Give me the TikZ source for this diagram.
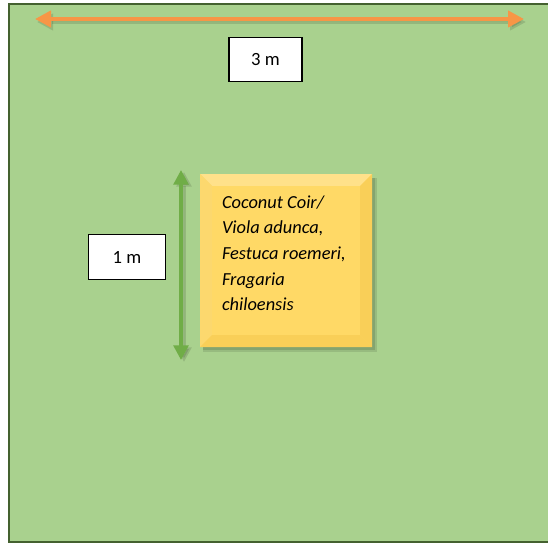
\documentclass[tikz,border=0pt]{standalone}
\usepackage{fontspec}
\setmainfont{Carlito}
\usetikzlibrary{arrows.meta}
\definecolor{grassfill}{HTML}{A9D18E}
\definecolor{grassline}{HTML}{44612F}
\definecolor{orangearr}{HTML}{F79646}
\definecolor{greenarr}{HTML}{70AD47}
\definecolor{goldmid}{HTML}{FFD966}
\definecolor{goldlight}{HTML}{FFE18A}
\definecolor{golddark}{HTML}{F9CF58}
\definecolor{goldleft}{HTML}{FCD86E}
\tikzset{
  labelbox/.style={draw=black, line width=1.2pt, fill=white, inner sep=0pt, font=\fontsize{14}{16}\selectfont},
  dimarrow/.style={line width=3pt, {Triangle[length=12pt,width=12pt]}-{Triangle[length=12pt,width=12pt]}},
  shadowarrow/.style={dimarrow, draw=black, fill=black, opacity=0.12},
}
\begin{document}
\begin{tikzpicture}[x=0.75pt,y=-0.75pt]
\useasboundingbox (0,0) rectangle (548,545);
% ground
\fill[grassfill] (9,4) rectangle (560,542);
\draw[grassline, line width=2pt] (560,4) -- (9,4) -- (9,542) -- (560,542);
% top dimension
\coordinate (tl) at (35,19);
\coordinate (tr) at (524,19);
\coordinate (tls) at (37,22);
\coordinate (trs) at (526,22);
\draw[shadowarrow] (tls) -- (trs);
\draw[dimarrow, draw=orangearr, fill=orangearr] (tl) -- (tr);
\node[labelbox, minimum width=55pt, minimum height=33pt] (lab3) at (265.5,59.5) {3 m};
% plot shadow
\fill[black, opacity=0.10] (203,178) rectangle (377,352);
\fill[black, opacity=0.12] (203,178) rectangle (375,350);
% plot bevel box
\coordinate (pnw) at (200,174);
\coordinate (pse) at (372,347);
\coordinate (inw) at (212,186);
\coordinate (ise) at (360,335);
\fill[goldmid] (pnw) rectangle (pse);
\fill[goldlight] (200,174) -- (372,174) -- (360,186) -- (212,186) -- cycle;
\fill[goldleft] (200,174) -- (212,186) -- (212,335) -- (200,347) -- cycle;
\fill[golddark] (372,174) -- (372,347) -- (360,335) -- (360,186) -- cycle;
\fill[golddark] (200,347) -- (372,347) -- (360,335) -- (212,335) -- cycle;
\fill[goldmid] (inw) rectangle (ise);
\node[draw=none, minimum width=129pt, minimum height=129.75pt, inner sep=0pt] (plot) at (286,260.5) {};
\node[anchor=north west, align=left, inner sep=0pt,
      font=\fontsize{13.8}{19.2}\selectfont\itshape] (plottext) at ([xshift=16.5pt,yshift=-16.2pt]plot.north west)
  {Coconut Coir/\\Viola adunca,\\Festuca roemeri,\\Fragaria\\chiloensis};
% side dimension
\coordinate (vt) at (181,170);
\coordinate (vb) at (181,360);
\coordinate (vts) at (184,172);
\coordinate (vbs) at (184,362);
\draw[shadowarrow, line width=2.6pt, {Triangle[length=11pt,width=11pt]}-{Triangle[length=11pt,width=11pt]}] (vts) -- (vbs);
\draw[line width=2.6pt, draw=greenarr, fill=greenarr, {Triangle[length=11pt,width=11pt]}-{Triangle[length=11pt,width=11pt]}] (vt) -- (vb);
\node[labelbox, minimum width=58pt, minimum height=34pt] (lab1) at (127,257) {1 m};
\end{tikzpicture}
\end{document}
